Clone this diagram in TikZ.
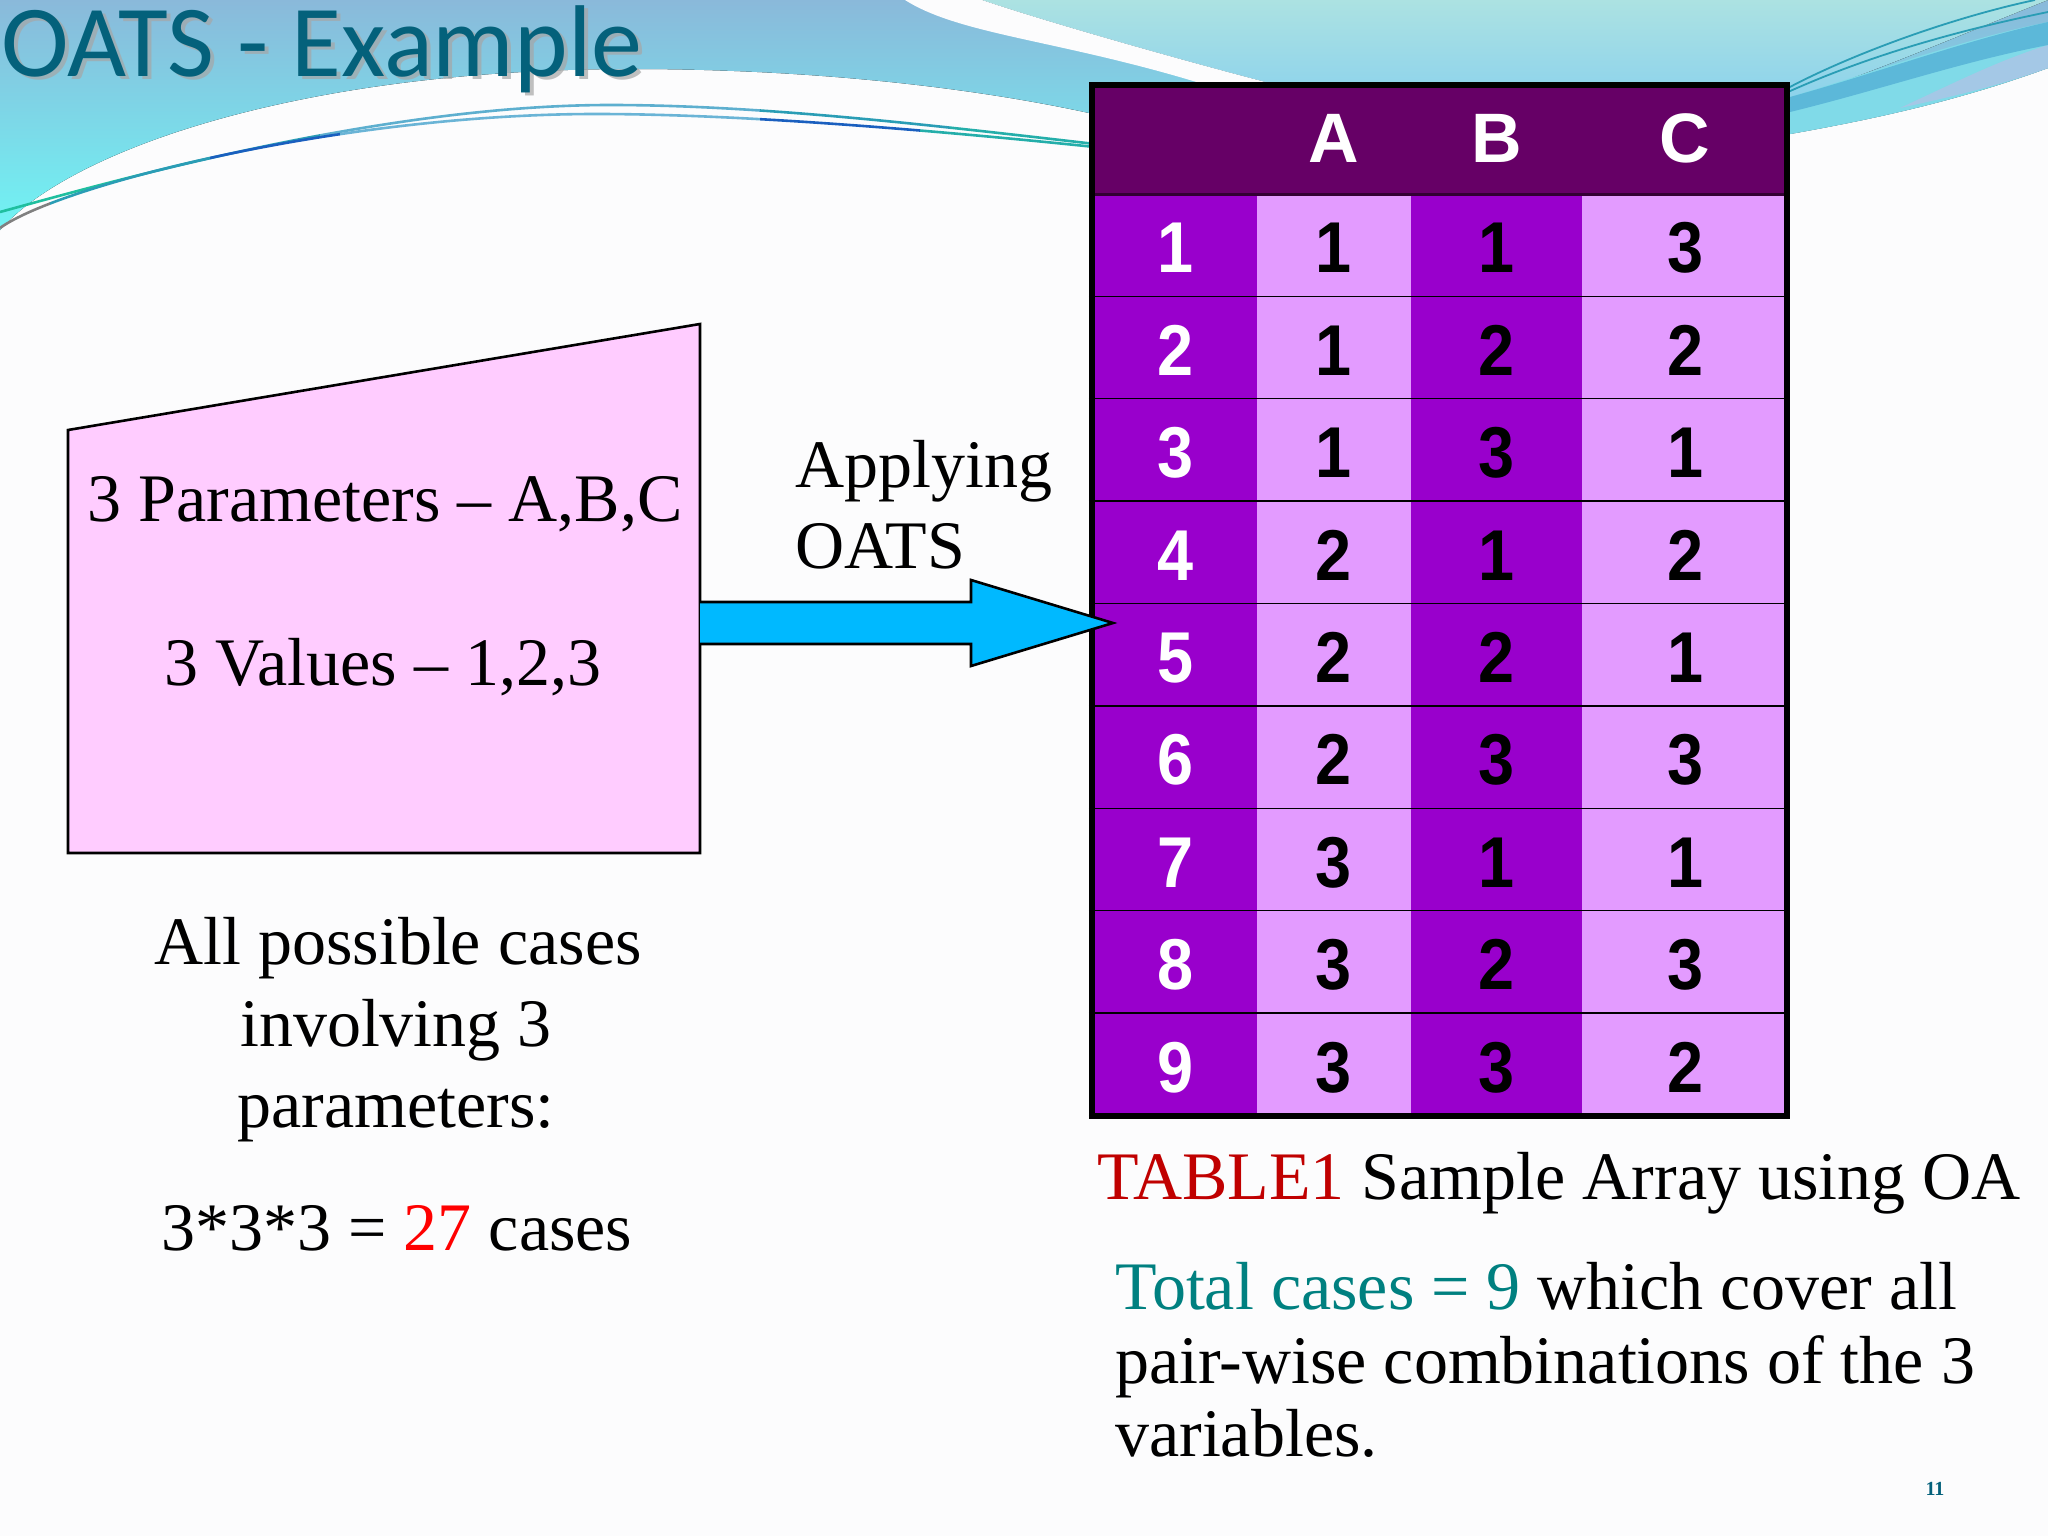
\documentclass[tikz,border=0pt]{standalone}
\usepackage{fontspec}
\setmainfont{Liberation Serif}
\newfontfamily\titlefont{Carlito}
\newfontfamily\cellfont{Liberation Sans}
\definecolor{pagebg}{HTML}{FCFCFD}
\definecolor{titleblue}{HTML}{04617B}
\definecolor{bandtop}{HTML}{8AB9DA}
\definecolor{bandlow}{HTML}{70F4F4}
\definecolor{lighttop}{HTML}{ACE2E2}
\definecolor{lightlow}{HTML}{8CD2EC}
\definecolor{hdr}{HTML}{660066}
\definecolor{purp}{HTML}{9900CC}
\definecolor{lilac}{HTML}{E39BFF}
\definecolor{pinkbox}{HTML}{FFCCFF}
\definecolor{arrowblue}{HTML}{00B9FF}
\definecolor{tabred}{HTML}{C00000}
\definecolor{tealtxt}{HTML}{008080}
\definecolor{swgreen}{HTML}{1FBF9F}
\definecolor{swteal}{HTML}{2A9DB5}
\definecolor{swsky}{HTML}{6AB4D6}
\definecolor{swdeep}{HTML}{1A5FBF}
\definecolor{rightdark}{HTML}{5CB8D9}
\definecolor{rightpale}{HTML}{A4C8E6}
\definecolor{rightcyan}{HTML}{80DAE8}
\newcommand{\curveA}{(0,212) .. controls (110,182) and (380,105) .. (610,105) .. controls (760,105) and (930,125) .. (1095,144)}
\newcommand{\curveB}{(0,228) .. controls (60,185) and (340,114) .. (596,114) .. controls (740,114) and (930,130) .. (1095,147)}
\tikzset{
  x=1pt,y=-1pt,
  body/.style={font=\fontsize{68}{76}\selectfont,anchor=base,inner sep=0pt},
  bodyleft/.style={font=\fontsize{68}{76}\selectfont,anchor=base west,inner sep=0pt},
  cell/.style={inner sep=0pt,minimum height=102.4pt,text height=54.5pt,text depth=0pt,font=\cellfont\bfseries\fontsize{72}{72}\selectfont},
  headtxt/.style={inner sep=0pt,text=white,font=\cellfont\bfseries\fontsize{70}{70}\selectfont},
  swoosh/.style={line width=2.6pt},
}
\newcommand{\narrow}[1]{\scalebox{0.9}[1]{#1}}
\begin{document}
\begin{tikzpicture}
\useasboundingbox (0,0) rectangle (2048,1536);
\fill[pagebg] (0,0) rectangle (2048,1536);
% blue band
\fill[top color=bandtop,bottom color=bandlow]
  (0,0) -- (2048,0) -- (2048,68) .. controls (1960,100) and (1880,118) .. (1790,134)
  -- (1500,150) -- (1089,113) .. controls (960,85) and (800,69) .. (631,69)
  .. controls (300,69) and (70,150) .. (0,230) -- cycle;
% light upper-right panel
\fill[top color=lighttop,bottom color=lightlow]
  (982,0) .. controls (1040,20) and (1180,60) .. (1273,84) -- (1790,100)
  .. controls (1880,70) and (1960,35) .. (2048,0) -- cycle;
% white stripe
\fill[pagebg]
  (905,0) .. controls (960,35) and (1060,40) .. (1203,84) -- (1273,84)
  .. controls (1180,60) and (1040,20) .. (982,0) -- cycle;
% stripes on the right
\fill[rightcyan] (1790,97) .. controls (1880,70) and (1960,40) .. (2048,22)
  -- (2048,68) .. controls (1960,100) and (1880,118) .. (1790,134) -- cycle;
\fill[rightpale] (2048,45) -- (2048,68) .. controls (2000,85) and (1960,95) .. (1900,108) .. controls (1960,80) and (2000,60) .. (2048,45) -- cycle;
\fill[rightdark] (1790,97) .. controls (1880,72) and (1960,42) .. (2048,22)
  -- (2048,45) .. controls (1960,62) and (1880,90) .. (1790,112) -- cycle;
% thin right lines
\draw[color=swteal,line width=1.8pt] (1788,88) .. controls (1850,55) and (1950,18) .. (2035,0);
\draw[color=swteal,line width=1.8pt] (1788,92) .. controls (1870,55) and (1960,30) .. (2048,12);
% thin left curves with colour changes along them
\begin{scope}\clip (0,0) rectangle (140,300);\draw[swoosh,color=swgreen] \curveA;\end{scope}
\begin{scope}\clip (140,0) rectangle (320,300);\draw[swoosh,color=swteal] \curveA;\end{scope}
\begin{scope}\clip (320,0) rectangle (760,300);\draw[swoosh,color=swsky!80!swteal] \curveA;\end{scope}
\begin{scope}\clip (760,0) rectangle (950,300);\draw[swoosh,color=swteal] \curveA;\end{scope}
\begin{scope}\clip (950,0) rectangle (1095,300);\draw[swoosh,color=swgreen!50!swteal] \curveA;\end{scope}
\begin{scope}\clip (0,0) rectangle (50,300);\draw[swoosh,color=gray] \curveB;\end{scope}
\begin{scope}\clip (50,0) rectangle (210,300);\draw[swoosh,color=swteal] \curveB;\end{scope}
\begin{scope}\clip (210,0) rectangle (340,300);\draw[swoosh,color=swdeep] \curveB;\end{scope}
\begin{scope}\clip (340,0) rectangle (760,300);\draw[swoosh,color=swsky] \curveB;\end{scope}
\begin{scope}\clip (760,0) rectangle (920,300);\draw[swoosh,color=swdeep] \curveB;\end{scope}
\begin{scope}\clip (920,0) rectangle (1095,300);\draw[swoosh,color=swgreen!50!swteal] \curveB;\end{scope}
% title
\node[anchor=base west,inner sep=0pt,text=black!35,opacity=.7,font=\titlefont\fontsize{102}{102}\selectfont] (titleshadow) at (5,80) {OATS - Example};
\node[anchor=base west,inner sep=0pt,text=titleblue,font=\titlefont\fontsize{102}{102}\selectfont] (title) at (1,77) {OATS - Example};
% table
\node[fill=hdr,inner sep=0pt,minimum width=701pt,minimum height=112.5pt] (head) at (1439.5,138.25) {};
\foreach \r/\a/\b/\c in {1/1/1/3,2/1/2/2,3/1/3/1,4/2/1/2,5/2/2/1,6/2/3/3,7/3/1/1,8/3/2/3,9/3/3/2}{
  \pgfmathsetmacro{\yy}{194.5+102.4*(\r-0.5)}
  \node[cell,fill=purp,text=white,minimum width=168pt] (n\r) at (1173,\yy) {\hspace*{6pt}\narrow{\r}};
  \node[cell,fill=lilac,text=black,minimum width=154pt] (a\r) at (1334,\yy) {\narrow{\a}};
  \node[cell,fill=purp,text=black,minimum width=170.5pt] (b\r) at (1496.25,\yy) {\narrow{\b}};
  \node[cell,fill=lilac,text=black,minimum width=208.5pt] (c\r) at (1685.75,\yy) {\narrow{\c}};
  \draw[line width=3pt,black] (n\r.south west) -- (c\r.south east);
}
\draw[line width=3pt,hdr!50!black] (head.south west) -- (head.south east);
\node[headtxt] (hA) at (1334,138) {A};
\node[headtxt] (hB) at (1497,138) {B};
\node[headtxt] (hC) at (1685,138) {C};
\draw[line width=5.5pt,black] (1092,85) rectangle (1787,1116);
% pink box
\draw[fill=pinkbox,line width=2.6pt,black,fill=pinkbox] (68,430) -- (700,324) -- (700,853) -- (68,853) -- cycle;
% block arrow
\coordinate (shaftTL) at (700,602);
\coordinate (tip) at (1113,623);
\draw[fill=arrowblue,line width=2.6pt,black,fill=arrowblue,line join=miter]
  (shaftTL) -- (971,602) -- (971,580) -- (tip) -- (971,666) -- (971,644) -- (700,644);
% texts
\node[body] (p1) at (385,521.5) {3 Parameters -- A,B,C};
\node[body] (p2) at (383,685.5) {3 Values -- 1,2,3};
\node[body] (c1) at (398,964.5) {All possible cases};
\node[body] (c2) at (396,1046) {involving 3};
\node[body] (c3) at (396,1127.5) {parameters:};
\node[body] (c4) at (397,1250.5) {3*3*3 = \textcolor{red}{27} cases};
\node[bodyleft] (ap1) at (795,487) {Applying};
\node[bodyleft] (ap2) at (795,568) {OATS};
\node[bodyleft] (cap) at (1097,1199.5) {\textcolor{tabred}{TABLE1} Sample Array using OA};
\node[bodyleft] (t1) at (1115,1309.5) {\textcolor{tealtxt}{Total cases = 9} which cover all};
\node[bodyleft] (t2) at (1115,1383.5) {pair-wise combinations of the 3};
\node[bodyleft] (t3) at (1115,1456.5) {variables.};
\node[inner sep=0pt,text=titleblue,font=\bfseries\fontsize{20}{20}\selectfont] (pg) at (1935,1489) {11};
\end{tikzpicture}
\end{document}
